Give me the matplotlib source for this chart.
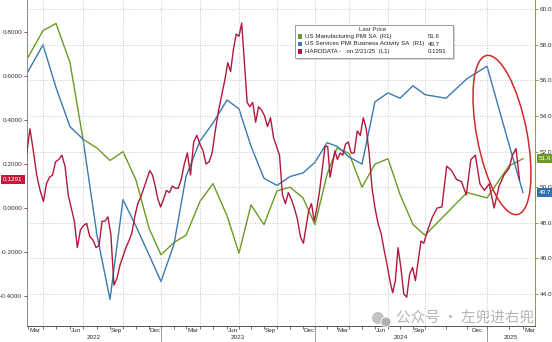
import numpy as np
import pandas as pd
import matplotlib
matplotlib.use('Agg')
import matplotlib.pyplot as plt
import matplotlib.dates as mdates
from matplotlib.ticker import FixedLocator, FixedFormatter, NullFormatter, FuncFormatter
from matplotlib.patches import Ellipse, Rectangle, Circle
from matplotlib.transforms import IdentityTransform, blended_transform_factory

plt.rcParams['font.family'] = ['Liberation Sans', 'DejaVu Sans']

def month_ends(start, end):
    try:
        return pd.date_range(start, end, freq='ME')
    except Exception:
        return pd.date_range(start, end, freq='M')

# ---------------- data ----------------
pmi_months = month_ends('2022-02-01', '2025-02-28')   # Feb 2022 .. Feb 2025

mfg_pmi = [57.3, 58.8, 59.2, 57.0, 52.7, 52.2, 51.5, 52.0, 50.4, 47.7, 46.2,
           46.9, 47.3, 49.2, 50.2, 48.4, 46.3, 49.0, 47.9, 49.8, 50.0, 49.4, 47.9,
           50.7, 52.2, 51.9, 50.0, 51.3, 51.6, 49.6, 47.9, 47.3, 48.5, 49.7, 49.4,
           51.2, 51.6]

svc_pmi = [56.5, 58.0, 55.6, 53.4, 52.7, 47.3, 43.7, 49.3, 47.8, 46.2, 44.7,
           46.8, 50.6, 52.6, 53.6, 54.9, 54.4, 52.3, 50.5, 50.1, 50.6, 50.8, 51.4,
           52.5, 52.3, 51.7, 51.3, 54.8, 55.3, 55.0, 55.7, 55.2, 55.0, 56.1, 56.8,
           52.4, 49.7]

hard_dates = pd.date_range('2022-02-25', '2025-02-21', freq='W-FRI')
hard_data = [
    0.24,                                   # Feb 22
    0.36, 0.26, 0.15, 0.08,                 # Mar
    0.03, 0.11, 0.14, 0.15, 0.21,           # Apr
    0.22, 0.24, 0.19, 0.06,                 # May
    0.00, -0.06, -0.18, -0.10,              # Jun
    -0.08, -0.07, -0.13, -0.145, -0.18,     # Jul
    -0.17, -0.06, -0.06, -0.04,             # Aug
    -0.12, -0.35, -0.32, -0.26, -0.22,      # Sep
    -0.18, -0.15, -0.115, -0.04,            # Oct
    0.02, 0.05, 0.09, 0.13,                 # Nov
    0.17, 0.15, 0.10, 0.04, 0.005,          # Dec
    0.04, 0.08, 0.07, 0.10,                 # Jan 23
    0.09, 0.09, 0.13, 0.20,                 # Feb
    0.25, 0.15, 0.30, 0.33, 0.29,           # Mar
    0.26, 0.20, 0.21, 0.25,                 # Apr
    0.35, 0.44, 0.51, 0.58,                 # May
    0.66, 0.62, 0.72, 0.79, 0.78,           # Jun
    0.84, 0.66, 0.48, 0.46,                 # Jul
    0.48, 0.39, 0.46, 0.445,                # Aug
    0.42, 0.37, 0.41, 0.32, 0.28,           # Sep
    0.24, 0.06, 0.02, 0.07,                 # Oct
    0.04, 0.00, -0.05, -0.13,               # Nov
    -0.16, -0.085, -0.01, 0.02, -0.06,      # Dec
    0.00, 0.08, 0.18, 0.28,                 # Jan 24
    0.28, 0.14, 0.20, 0.26,                 # Feb
    0.22, 0.25, 0.24, 0.29, 0.30,           # Mar
    0.25, 0.25, 0.35, 0.33,                 # Apr
    0.41, 0.36, 0.25, 0.09, 0.00,           # May
    -0.07, -0.115, -0.19, -0.26,            # Jun
    -0.33, -0.385, -0.33, -0.18,            # Jul
    -0.27, -0.39, -0.405, -0.30, -0.27,     # Aug
    -0.33, -0.24, -0.15, -0.16,             # Sep
    -0.10, -0.04, 0.00, 0.005,              # Oct
    0.19, 0.17, 0.13, 0.12, 0.06,           # Nov
    0.22, 0.24, 0.11, 0.08,                 # Dec
    0.11, 0.00, 0.10, 0.15, 0.18,           # Jan 25
    0.24, 0.27, 0.1291,                     # Feb
]

left_ticks = [-0.4, -0.2, 0.0, 0.2, 0.4, 0.6, 0.8]
right_ticks = [44, 46, 48, 50, 52, 54, 56, 58, 60]
quarter_labels = ['Mar', 'Jun', 'Sep', 'Dec']
years = [2022, 2023, 2024, 2025]

legend_labels = ['US Manufacturing PMI SA  (R1)',
                 'US Services PMI Business Activity SA  (R1)',
                 'HARDDATA -   on 2/21/25  (L1)']
legend_values = ['51.6', '49.7', '0.1291']

# ---------------- styles ----------------
GREEN = '#6b9a24'
BLUE = '#3b79b3'
RED = '#b2183d'
W, H = 552, 342

# ---------------- x scale (Bloomberg-like non-calendar axis) ----------------
scale_dates = month_ends('2022-01-01', '2025-03-31')
scale_pos = [14, 28, 43, 56, 70, 83, 97, 110, 123, 136, 149, 161,
             174, 186, 200, 213, 227, 239, 251, 264, 277, 290, 303, 315,
             327, 337, 349, 362, 375, 388, 400, 413, 425, 446, 467, 487,
             509, 523, 537]
a_num = np.concatenate([[mdates.date2num(pd.Timestamp('2021-01-31'))],
                        mdates.date2num(scale_dates),
                        [mdates.date2num(pd.Timestamp('2026-03-31'))]])
a_pos = np.concatenate([[14 - 160.0], np.array(scale_pos, float), [537 + 160.0]])

def fwd(x):
    return np.interp(x, a_num, a_pos)

def inv(p):
    return np.interp(p, a_pos, a_num)

# ---------------- figure ----------------
fig = plt.figure(figsize=(W / 100, H / 100), dpi=100)
ax_l, ax_r, ax_b, ax_t = 27, 535, 326, 0
ax = fig.add_axes([ax_l / W, 1 - ax_b / H, (ax_r - ax_l) / W, (ax_b - ax_t) / H])
ax2 = ax.twinx()

ax2.plot(pmi_months, mfg_pmi, color=GREEN, lw=1.0, zorder=3)
ax2.plot(pmi_months, svc_pmi, color=BLUE, lw=1.0, zorder=3)
ax.plot(hard_dates, hard_data, color=RED, lw=1.0, zorder=4)

ax.set_zorder(ax2.get_zorder() + 1)
ax.patch.set_visible(False)

ax.set_xscale('function', functions=(fwd, inv))
ax.set_xlim(inv(27), inv(535))

ax.set_ylim(-0.536, 0.945)
ax2.set_ylim(42.2, 60.52)

# y ticks
ax.yaxis.set_major_locator(FixedLocator(left_ticks))
ax.yaxis.set_major_formatter(FuncFormatter(lambda v, p: f'{v:.4f}'))
ax.tick_params(axis='y', labelsize=4.6, length=2.5, width=0.6, color=RED,
               labelcolor='#333333', pad=1)
ax2.yaxis.set_major_locator(FixedLocator(right_ticks))
ax2.yaxis.set_major_formatter(FuncFormatter(lambda v, p: f'{v:.1f}'))
ax2.tick_params(axis='y', labelsize=4.6, length=2.5, width=0.6, color=GREEN,
                labelcolor='#333333', pad=1)

# horizontal grid from right axis
ax2.grid(axis='y', color='#b5b5b5', lw=0.6, linestyle=(0, (1, 2)))
ax2.set_axisbelow(True)

# x ticks: month-end small ticks, quarter labels at mid month
all_me = month_ends('2022-02-01', '2025-03-31')
ax.xaxis.set_major_locator(FixedLocator(mdates.date2num(all_me)))
ax.xaxis.set_major_formatter(NullFormatter())
q_mid = [pd.Timestamp(d.year, d.month, 15) for d in all_me if d.month in (3, 6, 9, 12)]
ax.xaxis.set_minor_locator(FixedLocator(mdates.date2num(q_mid)))
ax.xaxis.set_minor_formatter(FixedFormatter([quarter_labels[(d.month // 3) - 1] for d in q_mid]))
ax.tick_params(axis='x', which='major', length=2.5, width=0.6, color='#555555')
ax.tick_params(axis='x', which='minor', length=0, labelsize=4.6, labelcolor='#333333', pad=1.5)
ax2.tick_params(axis='x', which='both', length=0)

# vertical quarter gridlines
for d in all_me:
    if d.month in (3, 6, 9, 12):
        ax.axvline(d, color='#b5b5b5', lw=0.6, linestyle=(0, (1, 2)), zorder=0)

# year separators and labels
trans = blended_transform_factory(ax.transData, ax.transAxes)
xl = ax.get_xlim()
for y in years:
    if y > years[0]:
        sep = mdates.date2num(pd.Timestamp(y - 1, 12, 31))
        ax.plot([sep, sep], [0, -0.06], transform=trans, color='#777777', lw=0.5, clip_on=False)
    s = max(mdates.date2num(pd.Timestamp(y - 1, 12, 31)), xl[0])
    e = min(mdates.date2num(pd.Timestamp(y, 12, 31)), xl[1])
    mid = inv((fwd(s) + fwd(e)) / 2)
    ax.text(mid, -0.036, str(y), transform=trans, ha='center', va='center',
            fontsize=4.6, color='#333333', clip_on=False)

# spines
for s in ['top']:
    ax.spines[s].set_visible(False)
    ax2.spines[s].set_visible(False)
ax.spines['left'].set_color('#888888')
ax.spines['bottom'].set_color('#555555')
ax.spines['right'].set_visible(False)
ax2.spines['left'].set_visible(False)
ax2.spines['bottom'].set_visible(False)
ax2.spines['right'].set_color('#8a9a3a')
for a in (ax, ax2):
    for sp in a.spines.values():
        sp.set_linewidth(0.7)

# last-value tags
ax.annotate(f'{hard_data[-1]:.4f}', xy=(0, hard_data[-1]), xycoords=('axes fraction', 'data'),
            xytext=(-3, 0), textcoords='offset points', ha='right', va='center',
            fontsize=4.6, color='white',
            bbox=dict(boxstyle='square,pad=0.3', fc='#c8173a', ec='none'), zorder=10,
            annotation_clip=False)
ax2.annotate(f'{mfg_pmi[-1]:.1f}', xy=(1, mfg_pmi[-1]), xycoords=('axes fraction', 'data'),
             xytext=(3, 0), textcoords='offset points', ha='left', va='center',
             fontsize=4.6, color='white',
             bbox=dict(boxstyle='square,pad=0.3', fc=GREEN, ec='none'), zorder=10,
             annotation_clip=False)
ax2.annotate(f'{svc_pmi[-1]:.1f}', xy=(1, svc_pmi[-1]), xycoords=('axes fraction', 'data'),
             xytext=(3, 0), textcoords='offset points', ha='left', va='center',
             fontsize=4.6, color='white',
             bbox=dict(boxstyle='square,pad=0.3', fc='#2f6fae', ec='none'), zorder=10,
             annotation_clip=False)

# legend box (figure pixel layout)
def fx(px):
    return px / W

def fy(py):
    return 1 - py / H

tf = fig.transFigure
fig.patches.append(Rectangle((fx(296.5), fy(59.5)), fx(455) - fx(296.5), fy(26.5) - fy(59.5),
                             transform=tf, fc='#d8d8d8', ec='none', zorder=19))
fig.patches.append(Rectangle((fx(295), fy(58)), fx(453) - fx(295), fy(25) - fy(58),
                             transform=tf, fc='white', ec='#8c8c8c', lw=0.6, zorder=20))
fig.text(fx(373), fy(29.5), 'Last Price', ha='center', va='center', fontsize=4.4,
         color='#333333', zorder=21)
row_y = [36.5, 44, 51.5]
for yy, col, lab, val in zip(row_y, [GREEN, BLUE, RED], legend_labels, legend_values):
    fig.patches.append(Rectangle((fx(298), fy(yy + 2.2)), 4.4 / W, 4.4 / H,
                                 transform=tf, fc=col, ec='none', zorder=21))
    fig.text(fx(305), fy(yy), lab, ha='left', va='center', fontsize=4.4,
             color='#222222', zorder=21)
    fig.text(fx(428), fy(yy), val, ha='left', va='center', fontsize=4.4,
             color='#222222', zorder=21)

# red highlight ellipse (annotation, display pixels)
fig.patches.append(Ellipse((502, H - 135), 162, 50, angle=-79, transform=IdentityTransform(),
                           fill=False, ec='#d02a2a', lw=1.1, zorder=25))

# watermark
fig.patches.append(Circle((378, H - 318), 6, transform=IdentityTransform(),
                          fc='#c4c4c4', ec='none', zorder=26))
fig.patches.append(Circle((386, H - 322), 5, transform=IdentityTransform(),
                          fc='#b0b0b0', ec='white', lw=0.6, zorder=27))
fig.text(fx(396), fy(319), '公众号 · 左兜进右兜', ha='left', va='center', fontsize=10.5,
         color='#b5b5b5', family=['Noto Sans CJK SC', 'DejaVu Sans'], zorder=28)

fig.savefig('out.png', dpi=100)
